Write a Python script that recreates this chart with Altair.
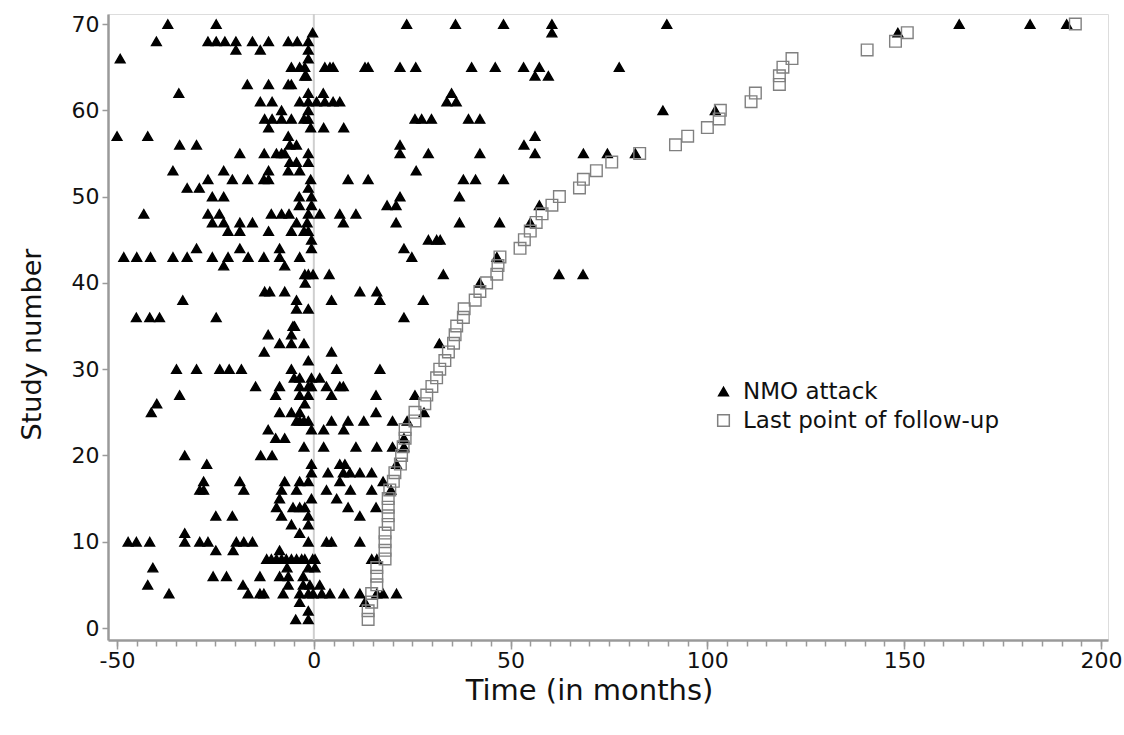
import altair as alt
import pandas as pd

FONT = "DejaVu Sans"

# Last point of follow-up (months) for study numbers 1..70
study_numbers = list(range(1, 71))
followup_months = [
    13.8, 13.8, 14.7, 14.7, 16.0, 16.0, 16.0, 18.1, 18.1, 18.1,
    18.1, 18.9, 18.9, 18.9, 18.9, 19.3, 20.2, 20.6, 22.0, 22.3,
    22.7, 23.2, 23.2, 25.7, 25.7, 28.2, 28.7, 30.0, 31.2, 32.0,
    33.3, 34.2, 35.5, 35.9, 36.3, 38.0, 38.2, 41.0, 42.2, 43.9,
    46.5, 46.8, 47.3, 52.4, 53.5, 55.0, 56.5, 58.0, 60.5, 62.4,
    67.5, 68.5, 71.8, 75.7, 82.8, 91.9, 95.0, 100.0, 103.0, 103.3,
    111.1, 112.2, 118.3, 118.3, 119.2, 121.5, 140.6, 147.8, 150.8, 193.5,
]

# NMO attacks (months relative to time 0) per study number
attack_months = {
    70: [-37.1, -24.8, 23.6, 36, 48.2, 60.5, 89.7, 164, 182, 191.3],
    69: [-0.3, 60.5, 148.4],
    68: [-40, -26.9, -24.8, -22.6, -19.8, -15.6, -11.5, -6.5, -4.2, -1.4],
    67: [-19.8, -13.6, -1.4],
    66: [-49.2, -1.4],
    65: [-5.7, -3.6, -2.3, 2.8, 4.1, 4.9, 13, 13.8, 21.9, 25.9, 40.1, 46.1, 53.3, 57.3, 77.6],
    64: [-2.3, -1.9, 56.2, 59.6],
    63: [-16.9, -11.5, -6.5, -5.7],
    62: [-34.3, -1.4, 2.4, 35],
    61: [-13.6, -10.6, -3.6, -1.4, 0.7, 2.8, 4.9, 6.6, 33.8, 36.2],
    60: [-8.2, -1.4, 88.7, 102],
    59: [-12.5, -10.6, -8.2, -5.7, -2.5, -1.4, 25.7, 27.4, 29.9, 39.3, 42.2],
    58: [-11.5, -0.8, 2.5, 7.6],
    57: [-50, -42.2, -6.5, 56.2],
    56: [-34.1, -29.8, -6.1, -4.4, 21.9, 53.4],
    55: [-18.8, -12.6, -9.5, -8.2, -7.4, -1.4, 21.9, 29.1, 42.2, 56.2, 68.5, 74.6, 81.7],
    54: [-6.1, -4.4, -1.4],
    53: [-35.8, -22.9, -11.5, -6.5, -3.6, 26],
    52: [-26.9, -20.7, -16.8, -12.7, -11.5, -0.8, 8.7, 13.8, 38, 41.1, 48.2],
    51: [-32.2, -29.1, -1.4],
    50: [-25.8, -22.9, -3.7, -0.6, 21.9, 37],
    49: [-3.7, -0.6, 18.6, 20.9, 57.3],
    48: [-43.2, -26.9, -24, -10.8, -8.2, -6.3, -1.4, 1.5, 6.6, 10.7],
    47: [-25.8, -22.9, -18.8, -15.6, -4.4, -1.7, 7.5, 20.9, 37, 47.2, 55],
    46: [-21.8, -18.8, -11.5, -5.7, -2.5, -1.4],
    45: [-0.6, 29.1, 31.2, 32.1],
    44: [-29.8, -18.8, -8.7, -0.6, 22.9],
    43: [-48.3, -45, -41.5, -35.8, -32.2, -25.8, -21.8, -16.7, -12.7, -8.7, -3.6, 24.9, 46.5],
    42: [-22.9, -7.4],
    41: [-2.3, -1.4, -0.2, 3.9, 32.9, 62.3, 68.4],
    40: [-2.2, 42.2],
    39: [-12.5, -11.2, -7.4, 11.7, 16],
    38: [-33.3, -4.4, 4.5, 16.8, 27.8],
    37: [-4.4, -1.4],
    36: [-45.1, -41.7, -39.2, -24.8, 22.9],
    35: [-5.3, -4.9],
    34: [-11.6, -5.7],
    33: [-8.7, -5.7, -2.5, 31.9],
    32: [-12.6, 4.5],
    31: [-1.4],
    30: [-34.9, -29.8, -23.9, -21.5, -18.4, -5.7, 5.8, 16.8],
    29: [-5, -3.6, -0.6, 1.5],
    28: [-14.8, -8.7, -3.6, -1.4, -0.6, 3.2, 6.6, 7.5],
    27: [-34.1, -9.7, -3.6, -1.4, 4.5, 15.8, 25.7],
    26: [-39.9, -2.3],
    25: [-41.3, -8.7, -5.7, -3.6, 15.8, 28],
    24: [-4.4, -3.6, -2.5, -1.4, 4.5, 8.7, 12.7, 20, 23.7],
    23: [-11.6, -0.6, 2.5, 7.6],
    22: [-9.7, -7.4, 22.9],
    21: [-2.5, 2.5, 10.7, 16, 20, 22.9],
    20: [-32.8, -13.5, -10.6],
    19: [-27.2, -0.6, 6.6, 7.9, 21],
    18: [-0.6, 3.6, 7.5, 9.2, 11.7, 14.7],
    17: [-28, -18.8, -7.4, -3.6, -1.4, 6.6, 17.6],
    16: [-29, -28, -17.8, -8.2, -4.4, 3.2, 9.3, 14.7, 19.6],
    15: [-8.7, -0.6, 5.8],
    14: [-9.5, -5.3, -3.6, -2.3, 8.7, 15.8],
    13: [-24.9, -20.7, -8.2, -1.4, 11.7],
    12: [-5.7, -1.4],
    11: [-32.8, -3.6],
    10: [-47.2, -45.1, -41.7, -32.8, -29, -26.9, -19.7, -17.8, -15.6, -1.4, 3.2, 4.5, 11.7],
    9: [-24.9, -20.5, -8.7],
    8: [-12, -10.8, -9.5, -8.2, -7, -5.7, -4.4, -3.1, -2.3, -0.3, 0.3, 14.7, 16],
    7: [-40.9, -6.8, -1.4, 0.3],
    6: [-25.6, -22.2, -13.7, -8.7, -6.5, -2.7],
    5: [-42.2, -18, -6.5, -2.7, -1, 1.5],
    4: [-36.8, -16.7, -13.7, -12.7, -7.8, -3.6, -1.4, -0.2, 2, 4.1, 7.6, 11.7, 16, 17.6, 21],
    3: [-3.6, 13],
    2: [-1.4],
    1: [-4.6, -1.4],
}

series_names = ["NMO attack", "Last point of follow-up"]
x_major_ticks = [-50, 0, 50, 100, 150, 200]
x_minor_ticks = list(range(-50, 201, 5))
y_ticks = [0, 10, 20, 30, 40, 50, 60, 70]
reference_month = [0]

rows = []
for study in sorted(attack_months):
    for m in attack_months[study]:
        rows.append({"study": study, "month": m, "event": series_names[0]})
for study, m in zip(study_numbers, followup_months):
    rows.append({"study": study, "month": m, "event": series_names[1]})
df = pd.DataFrame(rows)

xscale = alt.Scale(domain=[-52.3, 201.8], nice=False, zero=False)
yscale = alt.Scale(domain=[-1.39, 71.16], nice=False, zero=False)

AXIS_GRAY = "#9a9a9a"
TEXT = "#111111"

major_axis = alt.Axis(
    values=x_major_ticks, title="Time (in months)", orient="bottom",
    grid=False, tickSize=9, tickColor=AXIS_GRAY, tickWidth=1.5,
    domainColor=AXIS_GRAY, domainWidth=2.5,
    labelFont=FONT, labelFontSize=22, labelColor=TEXT, labelPadding=1,
    labelExpr="'' + datum.value",
    titleFont=FONT, titleFontSize=29, titleFontWeight="normal", titleColor=TEXT,
    titlePadding=5, titleX=481,
)
minor_axis = alt.Axis(
    values=x_minor_ticks, title=None, orient="bottom", labels=False,
    grid=False, domain=False, tickSize=6, tickColor=AXIS_GRAY, tickWidth=1.5,
)
y_axis = alt.Axis(
    values=y_ticks, title="Study number", grid=False, tickSize=6,
    tickColor=AXIS_GRAY, tickWidth=1.5, domainColor=AXIS_GRAY, domainWidth=2.5,
    labelFont=FONT, labelFontSize=22, labelColor=TEXT, labelPadding=3,
    titleFont=FONT, titleFontSize=27, titleFontWeight="normal", titleColor=TEXT,
    titlePadding=25, titleY=330,
)

zero_line = alt.Chart(pd.DataFrame({"month": reference_month})).mark_rule(
    color="#cfcfcf", strokeWidth=2
).encode(x=alt.X("month:Q", scale=xscale, axis=minor_axis))

legend = alt.Legend(
    title=None, orient="none", legendX=604, legendY=366,
    labelFont=FONT, labelFontSize=23, labelColor=TEXT, labelLimit=0,
    symbolStrokeWidth=1.5, rowPadding=5, labelOffset=8,
    symbolOpacity=1,
)

points = alt.Chart(df).mark_point(strokeWidth=1.4, opacity=1).encode(
    x=alt.X("month:Q", scale=xscale, axis=major_axis),
    y=alt.Y("study:Q", scale=yscale, axis=y_axis),
    shape=alt.Shape("event:N", scale=alt.Scale(domain=series_names, range=["triangle-up", "square"]), legend=legend),
    fill=alt.Fill("event:N", scale=alt.Scale(domain=series_names, range=["#000000", "transparent"]), legend=legend),
    stroke=alt.Stroke("event:N", scale=alt.Scale(domain=series_names, range=["#000000", "#808080"]), legend=legend),
    size=alt.Size("event:N", scale=alt.Scale(domain=series_names, range=[95, 135]), legend=legend),
)

chart = alt.layer(zero_line, points).resolve_axis(x="independent").properties(
    width=1000, height=626,
    autosize=alt.AutoSizeParams(type="none"),
    padding={"left": 108, "top": 14, "right": 16, "bottom": 95},
).configure_view(stroke=None).configure(background="white")

chart.save("out.html", embed_options={"renderer": "svg", "actions": False})
